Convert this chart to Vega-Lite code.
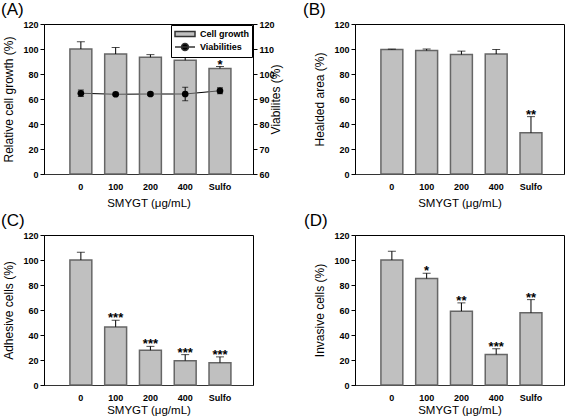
{
  "$schema": "https://vega.github.io/schema/vega-lite/v6.json",
  "padding": {"left": 0, "top": 0, "right": 0, "bottom": 0},
  "background": "white",
  "bounds": "flush",
  "columns": 2,
  "spacing": {"row": 61, "column": 102},
  "resolve": {"scale": {"fill": "independent", "shape": "independent"}, "legend": {"fill": "independent", "shape": "independent"}},
  "datasets": {
    "bars": [
      {"panel": "A", "dose": "0", "value": 100, "err": 105.8, "star": ""},
      {"panel": "A", "dose": "100", "value": 96, "err": 101.2, "star": ""},
      {"panel": "A", "dose": "200", "value": 93.4, "err": 95.5, "star": ""},
      {"panel": "A", "dose": "400", "value": 91, "err": 93.9, "star": ""},
      {"panel": "A", "dose": "Sulfo", "value": 84.4, "err": 86, "star": "*"},
      {"panel": "B", "dose": "0", "value": 99.6, "err": 99.9, "star": ""},
      {"panel": "B", "dose": "100", "value": 98.8, "err": 100, "star": ""},
      {"panel": "B", "dose": "200", "value": 95.6, "err": 98.3, "star": ""},
      {"panel": "B", "dose": "400", "value": 96, "err": 99.6, "star": ""},
      {"panel": "B", "dose": "Sulfo", "value": 33, "err": 45.9, "star": "**"},
      {"panel": "C", "dose": "0", "value": 100, "err": 106.2, "star": ""},
      {"panel": "C", "dose": "100", "value": 46.5, "err": 51.8, "star": "***"},
      {"panel": "C", "dose": "200", "value": 27.8, "err": 30.9, "star": "***"},
      {"panel": "C", "dose": "400", "value": 19.5, "err": 24.3, "star": "***"},
      {"panel": "C", "dose": "Sulfo", "value": 17.9, "err": 22.5, "star": "***"},
      {"panel": "D", "dose": "0", "value": 100, "err": 107, "star": ""},
      {"panel": "D", "dose": "100", "value": 85.2, "err": 89.4, "star": "*"},
      {"panel": "D", "dose": "200", "value": 59.1, "err": 65.7, "star": "**"},
      {"panel": "D", "dose": "400", "value": 24.5, "err": 29, "star": "***"},
      {"panel": "D", "dose": "Sulfo", "value": 57.8, "err": 68.3, "star": "**"}
    ],
    "viab": [
      {"dose": "0", "v": 92.3, "lo": 91, "hi": 93.6},
      {"dose": "100", "v": 91.9, "lo": 91.4, "hi": 92.4},
      {"dose": "200", "v": 92, "lo": 91.4, "hi": 92.6},
      {"dose": "400", "v": 92, "lo": 89.3, "hi": 94.7},
      {"dose": "Sulfo", "v": 93.3, "lo": 92.1, "hi": 94.5}
    ],
    "series": [
      {"series": "Cell growth"},
      {"series": "Viabilities"}
    ]
  },
  "concat": [
    {
      "width": 209, "height": 150,
      "title": {"text": "(A)", "dx": -43},
      "layer": [
        {
          "data": {"name": "viab"},
          "mark": {"type": "line", "color": "black", "strokeWidth": 1},
          "encoding": {
            "x": {"field": "dose", "type": "nominal", "sort": ["0", "100", "200", "400", "Sulfo"]},
            "y": {"field": "v", "type": "quantitative", "scale": {"domain": [60, 120]}, "title": "Viabilites (%)", "axis": {"orient": "right", "values": [60, 70, 80, 90, 100, 110, 120], "tickCount": 7, "titleAngle": 270, "titlePadding": 8}}
          }
        },
        {
          "data": {"name": "bars"},
          "transform": [{"filter": "datum.panel == 'A'"}],
          "encoding": {
            "x": {"field": "dose", "type": "nominal", "sort": ["0", "100", "200", "400", "Sulfo"], "scale": {"paddingInner": 0.37, "paddingOuter": 0.69, "align": 0.54}, "axis": {"title": "SMYGT (μg/mL)", "titlePadding": 6}}
          },
          "layer": [
            {
              "data": {"name": "series"},
              "mark": {"type": "point", "filled": true, "stroke": "#333", "strokeWidth": 1, "size": 100, "opacity": 1, "clip": true},
              "encoding": {
                "x": {"datum": "0", "type": "nominal"},
                "y": {"datum": -50, "type": "quantitative", "title": "Relative cell growth (%)"},
                "fill": {"field": "series", "type": "nominal", "scale": {"domain": ["Cell growth", "Viabilities"], "range": ["#c0c0c0", "black"]}, "legend": {"title": null, "orient": "top-right", "offset": 1}},
                "shape": {"field": "series", "type": "nominal", "scale": {"domain": ["Cell growth", "Viabilities"], "range": ["M-1,-0.5H3V0.5H-1Z", "M-1,0H3M1.7,0A0.7,0.7,0,1,1,0.3,0A0.7,0.7,0,1,1,1.7,0"]}, "legend": {"title": null, "orient": "top-right", "offset": 1}}
              }
            },
            {
              "mark": {"type": "bar", "fill": "#939393", "fillOpacity": 0.58, "stroke": "#666", "strokeWidth": 1.5},
              "encoding": {
                "y": {"field": "value", "type": "quantitative", "scale": {"domain": [0, 120]}, "title": "Relative cell growth (%)", "axis": {"values": [0, 20, 40, 60, 80, 100, 120], "tickCount": 7}}
              }
            },
            {
              "mark": {"type": "rule", "color": "black", "strokeWidth": 1},
              "encoding": {"y": {"field": "value", "type": "quantitative", "title": "Relative cell growth (%)"}, "y2": {"field": "err"}}
            },
            {
              "mark": {"type": "tick", "color": "black", "thickness": 1, "size": 8},
              "encoding": {"y": {"field": "err", "type": "quantitative", "title": "Relative cell growth (%)"}}
            },
            {
              "mark": {"type": "text", "fontSize": 13, "fontWeight": "bold", "baseline": "alphabetic", "dy": 2, "font": "Liberation Sans"},
              "encoding": {"y": {"field": "err", "type": "quantitative", "title": "Relative cell growth (%)"}, "text": {"field": "star"}}
            }
          ]
        },
        {
          "data": {"name": "viab"},
          "encoding": {
            "x": {"field": "dose", "type": "nominal", "sort": ["0", "100", "200", "400", "Sulfo"]}
          },
          "layer": [
            {
              "mark": {"type": "rule", "color": "black", "strokeWidth": 1},
              "encoding": {"y": {"field": "lo", "type": "quantitative", "scale": {"domain": [60, 120]}, "axis": null}, "y2": {"field": "hi"}}
            },
            {
              "mark": {"type": "tick", "color": "black", "thickness": 1, "size": 6},
              "encoding": {"y": {"field": "lo", "type": "quantitative", "axis": null}}
            },
            {
              "mark": {"type": "tick", "color": "black", "thickness": 1, "size": 6},
              "encoding": {"y": {"field": "hi", "type": "quantitative", "axis": null}}
            },
            {
              "mark": {"type": "point", "filled": true, "color": "black", "size": 45, "opacity": 1},
              "encoding": {"y": {"field": "v", "type": "quantitative", "axis": null}}
            }
          ]
        }
      ],
      "resolve": {"scale": {"y": "independent"}}
    },
    {
      "width": 209, "height": 150,
      "title": {"text": "(B)", "dx": -52},
      "data": {"name": "bars"},
      "transform": [{"filter": "datum.panel == 'B'"}],
      "encoding": {
        "x": {"field": "dose", "type": "nominal", "sort": ["0", "100", "200", "400", "Sulfo"], "scale": {"paddingInner": 0.37, "paddingOuter": 0.69, "align": 0.54}, "axis": {"title": "SMYGT (μg/mL)", "titlePadding": 6}}
      },
      "layer": [
        {
          "mark": {"type": "bar", "fill": "#c0c0c0", "stroke": "#666", "strokeWidth": 1.5},
          "encoding": {"y": {"field": "value", "type": "quantitative", "scale": {"domain": [0, 120]}, "title": "Healded area (%)", "axis": {"values": [0, 20, 40, 60, 80, 100, 120], "tickCount": 7}}}
        },
        {
          "mark": {"type": "rule", "color": "black", "strokeWidth": 1},
          "encoding": {"y": {"field": "value", "type": "quantitative", "title": "Healded area (%)"}, "y2": {"field": "err"}}
        },
        {
          "mark": {"type": "tick", "color": "black", "thickness": 1, "size": 8},
          "encoding": {"y": {"field": "err", "type": "quantitative", "title": "Healded area (%)"}}
        },
        {
          "mark": {"type": "text", "fontSize": 13, "fontWeight": "bold", "baseline": "alphabetic", "dy": 2, "font": "Liberation Sans"},
          "encoding": {"y": {"field": "err", "type": "quantitative", "title": "Healded area (%)"}, "text": {"field": "star"}}
        }
      ]
    },
    {
      "width": 209, "height": 150,
      "title": {"text": "(C)", "dx": -43},
      "data": {"name": "bars"},
      "transform": [{"filter": "datum.panel == 'C'"}],
      "encoding": {
        "x": {"field": "dose", "type": "nominal", "sort": ["0", "100", "200", "400", "Sulfo"], "scale": {"paddingInner": 0.37, "paddingOuter": 0.69, "align": 0.54}, "axis": {"title": "SMYGT (μg/mL)", "titlePadding": 2}}
      },
      "layer": [
        {
          "mark": {"type": "bar", "fill": "#c0c0c0", "stroke": "#666", "strokeWidth": 1.5},
          "encoding": {"y": {"field": "value", "type": "quantitative", "scale": {"domain": [0, 120]}, "title": "Adhesive cells (%)", "axis": {"values": [0, 20, 40, 60, 80, 100, 120], "tickCount": 7}}}
        },
        {
          "mark": {"type": "rule", "color": "black", "strokeWidth": 1},
          "encoding": {"y": {"field": "value", "type": "quantitative", "title": "Adhesive cells (%)"}, "y2": {"field": "err"}}
        },
        {
          "mark": {"type": "tick", "color": "black", "thickness": 1, "size": 8},
          "encoding": {"y": {"field": "err", "type": "quantitative", "title": "Adhesive cells (%)"}}
        },
        {
          "mark": {"type": "text", "fontSize": 13, "fontWeight": "bold", "baseline": "alphabetic", "dy": 2, "font": "Liberation Sans"},
          "encoding": {"y": {"field": "err", "type": "quantitative", "title": "Adhesive cells (%)"}, "text": {"field": "star"}}
        }
      ]
    },
    {
      "width": 209, "height": 150,
      "title": {"text": "(D)", "dx": -51},
      "data": {"name": "bars"},
      "transform": [{"filter": "datum.panel == 'D'"}],
      "encoding": {
        "x": {"field": "dose", "type": "nominal", "sort": ["0", "100", "200", "400", "Sulfo"], "scale": {"paddingInner": 0.37, "paddingOuter": 0.69, "align": 0.54}, "axis": {"title": "SMYGT (μg/mL)", "titlePadding": 2}}
      },
      "layer": [
        {
          "mark": {"type": "bar", "fill": "#c0c0c0", "stroke": "#666", "strokeWidth": 1.5},
          "encoding": {"y": {"field": "value", "type": "quantitative", "scale": {"domain": [0, 120]}, "title": "Invasive cells (%)", "axis": {"values": [0, 20, 40, 60, 80, 100, 120], "tickCount": 7}}}
        },
        {
          "mark": {"type": "rule", "color": "black", "strokeWidth": 1},
          "encoding": {"y": {"field": "value", "type": "quantitative", "title": "Invasive cells (%)"}, "y2": {"field": "err"}}
        },
        {
          "mark": {"type": "tick", "color": "black", "thickness": 1, "size": 8},
          "encoding": {"y": {"field": "err", "type": "quantitative", "title": "Invasive cells (%)"}}
        },
        {
          "mark": {"type": "text", "fontSize": 13, "fontWeight": "bold", "baseline": "alphabetic", "dy": 2, "font": "Liberation Sans"},
          "encoding": {"y": {"field": "err", "type": "quantitative", "title": "Invasive cells (%)"}, "text": {"field": "star"}}
        }
      ]
    }
  ],
  "config": {
    "font": "Liberation Sans",
    "view": {"stroke": "black", "strokeWidth": 1},
    "axis": {
      "grid": false, "labelOverlap": false,
      "labelFont": "Liberation Sans", "labelFontSize": 9, "labelFontWeight": "bold", "labelColor": "black",
      "titleFont": "Liberation Sans", "titleFontSize": 12, "titleFontWeight": "normal", "titleColor": "black",
      "domainColor": "black", "tickColor": "black", "tickSize": 4, "labelPadding": 2
    },
    "axisX": {"ticks": false, "labelAngle": 0, "labelPadding": 8, "titleFontSize": 11.5, "domainColor": "#333"},
    "axisY": {"titlePadding": 7},
    "title": {"font": "Liberation Sans", "fontSize": 17, "fontWeight": "normal", "anchor": "start", "frame": "group", "offset": 1, "color": "black"},
    "legend": {
      "padding": 3, "strokeColor": "black", "fillColor": "white",
      "labelFontSize": 9, "labelFontWeight": "bold", "labelFont": "Liberation Sans", "labelColor": "black",
      "rowPadding": 0, "labelOffset": 14
    }
  }
}
